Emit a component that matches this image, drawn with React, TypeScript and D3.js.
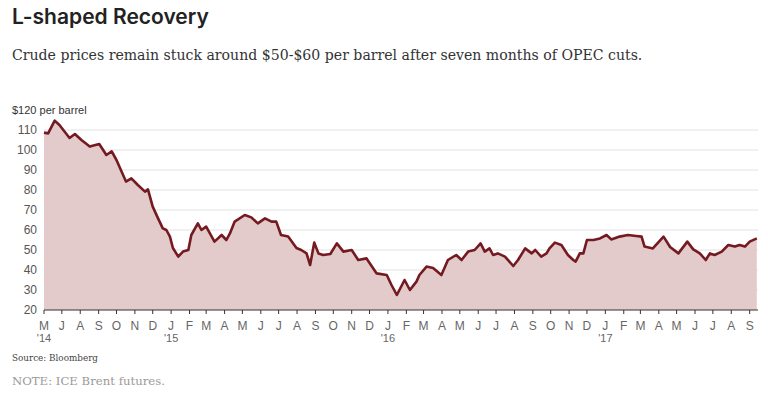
import * as d3 from "d3";
import { useEffect, useRef } from "react";

// Brent crude, $ per barrel
const dates = [
  "2014-06-01", "2014-06-08", "2014-06-19", "2014-06-27", "2014-07-14", "2014-07-23",
  "2014-08-03", "2014-08-17", "2014-09-02", "2014-09-14", "2014-09-23", "2014-10-01",
  "2014-10-17", "2014-10-26", "2014-11-06", "2014-11-18", "2014-11-23", "2014-12-01",
  "2014-12-10", "2014-12-18", "2014-12-24", "2014-12-30", "2015-01-04", "2015-01-13",
  "2015-01-21", "2015-01-30", "2015-02-04", "2015-02-15", "2015-02-21", "2015-03-01",
  "2015-03-15", "2015-03-27", "2015-04-04", "2015-04-10", "2015-04-18", "2015-05-05",
  "2015-05-16", "2015-05-27", "2015-06-08", "2015-06-19", "2015-06-27", "2015-07-05",
  "2015-07-17", "2015-07-31", "2015-08-08", "2015-08-17", "2015-08-23", "2015-08-30",
  "2015-09-06", "2015-09-14", "2015-09-26", "2015-10-07", "2015-10-18", "2015-11-01",
  "2015-11-12", "2015-11-26", "2015-12-13", "2015-12-30", "2016-01-07", "2016-01-16",
  "2016-01-29", "2016-02-07", "2016-02-18", "2016-02-23", "2016-03-06", "2016-03-17",
  "2016-03-31", "2016-04-11", "2016-04-25", "2016-05-04", "2016-05-15", "2016-05-26",
  "2016-06-05", "2016-06-12", "2016-06-20", "2016-06-26", "2016-07-04", "2016-07-16",
  "2016-07-30", "2016-08-07", "2016-08-19", "2016-08-30", "2016-09-05", "2016-09-15",
  "2016-09-24", "2016-09-29", "2016-10-08", "2016-10-19", "2016-10-30", "2016-11-08",
  "2016-11-12", "2016-11-19", "2016-11-25", "2016-12-01", "2016-12-12", "2016-12-23",
  "2017-01-03", "2017-01-11", "2017-01-25", "2017-02-08", "2017-02-22", "2017-03-03",
  "2017-03-08", "2017-03-22", "2017-04-09", "2017-04-20", "2017-05-04", "2017-05-19",
  "2017-05-29", "2017-06-09", "2017-06-19", "2017-06-26", "2017-07-04", "2017-07-16",
  "2017-07-27", "2017-08-07", "2017-08-15", "2017-08-24", "2017-09-01", "2017-09-13",
];

const prices = [
  108.7, 108.3, 114.7, 112.5, 106, 108,
  105, 101.7, 103, 97.5, 99.3, 95,
  84.2, 85.8, 82.5, 79.2, 80.3, 71.7,
  65.8, 60.8, 60, 56.7, 51, 46.7,
  49.2, 50, 57.5, 63.3, 60, 61.7,
  54.2, 57.5, 55, 58.3, 64.2, 67.5,
  66.3, 63.3, 65.8, 64.2, 64.2, 57.5,
  56.7, 51, 50, 48.3, 42.5, 53.7,
  48.3, 47.5, 48, 53.3, 49.2, 50,
  45, 45.8, 38.3, 37.5, 32.5, 27.5,
  35, 30, 34.2, 37.5, 41.7, 41,
  37.5, 45, 47.5, 45, 49.2, 50,
  53.3, 49.2, 50.8, 47.5, 48.3, 46.7,
  42, 45, 50.8, 48.3, 50, 46.7,
  48.3, 50.8, 53.7, 52.5, 47.5, 45,
  44.2, 48.3, 48.3, 55, 55, 55.8,
  57.5, 55.3, 56.7, 57.5, 57, 56.7,
  51.7, 50.8, 56.7, 51.5, 48.3, 54.2,
  50.3, 48.3, 45, 48.3, 47.5, 49.2,
  52.5, 51.7, 52.5, 51.7, 54.2, 55.8,
];

const yTicks = [20, 30, 40, 50, 60, 70, 80, 90, 100, 110];
const monthLabels = [
  "M", "J", "A", "S", "O", "N", "D",
  "J", "F", "M", "A", "M", "J", "J", "A", "S", "O", "N", "D",
  "J", "F", "M", "A", "M", "J", "J", "A", "S", "O", "N", "D",
  "J", "F", "M", "A", "M", "J", "J", "A", "S",
];
const yearLabels: { [i: number]: string } = { 0: "'14", 7: "'15", 19: "'16", 31: "'17" };

export default function App() {
  const svgRef = useRef<SVGSVGElement | null>(null);

  useEffect(() => {
    document.body.style.margin = "0";
    const width = 768;
    const height = 394;
    const margin = { left: 44, right: 10, top: 110, bottom: 84 };

    const parse = d3.timeParse("%Y-%m-%d");
    const data = dates.map((d, i) => ({ date: parse(d) as Date, value: prices[i] }));

    const x = d3
      .scaleTime()
      .domain([new Date(2014, 5, 1), new Date(2017, 8, 15)])
      .range([margin.left, width - margin.right]);
    const y = d3
      .scaleLinear()
      .domain([20, 120])
      .range([height - margin.bottom, margin.top]);

    const svg = d3.select(svgRef.current);
    svg.selectAll("*").remove();

    svg
      .append("text")
      .attr("x", 12)
      .attr("y", 24)
      .attr("fill", "#222")
      .style("font", "600 21px Inter, sans-serif")
      .text("L-shaped Recovery");

    svg
      .append("text")
      .attr("x", 12)
      .attr("y", 60)
      .attr("fill", "#333")
      .style("font", "14.1px 'DejaVu Serif', serif")
      .text("Crude prices remain stuck around $50-$60 per barrel after seven months of OPEC cuts.");

    // gridlines
    svg
      .append("g")
      .selectAll("line")
      .data(yTicks.slice(1))
      .join("line")
      .attr("x1", margin.left)
      .attr("x2", width - margin.right)
      .attr("y1", (d) => y(d))
      .attr("y2", (d) => y(d))
      .attr("stroke", "#e2e2e2")
      .attr("stroke-width", 1);

    svg
      .append("g")
      .selectAll("text")
      .data(yTicks)
      .join("text")
      .attr("x", 37)
      .attr("y", (d) => y(d))
      .attr("dy", "0.35em")
      .attr("text-anchor", "end")
      .attr("fill", "#555")
      .style("font", "12px Arial, 'Liberation Sans', sans-serif")
      .text((d) => d);

    svg
      .append("text")
      .attr("x", 12)
      .attr("y", y(120))
      .attr("dy", "0.35em")
      .attr("fill", "#333")
      .style("font", "11px Arial, 'Liberation Sans', sans-serif")
      .text("$120 per barrel");

    const area = d3
      .area<{ date: Date; value: number }>()
      .x((d) => x(d.date))
      .y0(y(20))
      .y1((d) => y(d.value));

    const line = d3
      .line<{ date: Date; value: number }>()
      .x((d) => x(d.date))
      .y((d) => y(d.value));

    svg.append("path").datum(data).attr("d", area).attr("fill", "#e3cbcc");
    svg
      .append("path")
      .datum(data)
      .attr("d", line)
      .attr("fill", "none")
      .attr("stroke", "#741a20")
      .attr("stroke-width", 2.6)
      .attr("stroke-linejoin", "round");

    // x axis
    const months = d3.timeMonth.range(new Date(2014, 5, 1), new Date(2017, 8, 2));
    svg
      .append("line")
      .attr("x1", margin.left)
      .attr("x2", width - margin.right)
      .attr("y1", y(20))
      .attr("y2", y(20))
      .attr("stroke", "#333")
      .attr("stroke-width", 1);

    const tick = svg
      .append("g")
      .selectAll("g")
      .data(months)
      .join("g")
      .attr("transform", (d) => `translate(${x(d)},${y(20)})`);

    tick.append("line").attr("y2", 4).attr("stroke", "#333");
    tick
      .append("text")
      .attr("y", 20)
      .attr("text-anchor", "middle")
      .attr("fill", "#666")
      .style("font", "12px Arial, 'Liberation Sans', sans-serif")
      .text((d, i) => monthLabels[i]);
    tick
      .append("text")
      .attr("y", 32)
      .attr("text-anchor", "middle")
      .attr("fill", "#666")
      .style("font", "11px Arial, 'Liberation Sans', sans-serif")
      .text((d, i) => yearLabels[i] ?? "");

    svg
      .append("text")
      .attr("x", 12)
      .attr("y", 361)
      .attr("fill", "#444")
      .style("font", "8.8px 'DejaVu Serif', serif")
      .text("Source: Bloomberg");

    svg
      .append("text")
      .attr("x", 12)
      .attr("y", 385)
      .attr("fill", "#999")
      .style("font", "11.7px 'DejaVu Serif', serif")
      .text("NOTE: ICE Brent futures.");
  }, []);

  return <svg ref={svgRef} width={768} height={394} style={{ display: "block" }} />;
}
